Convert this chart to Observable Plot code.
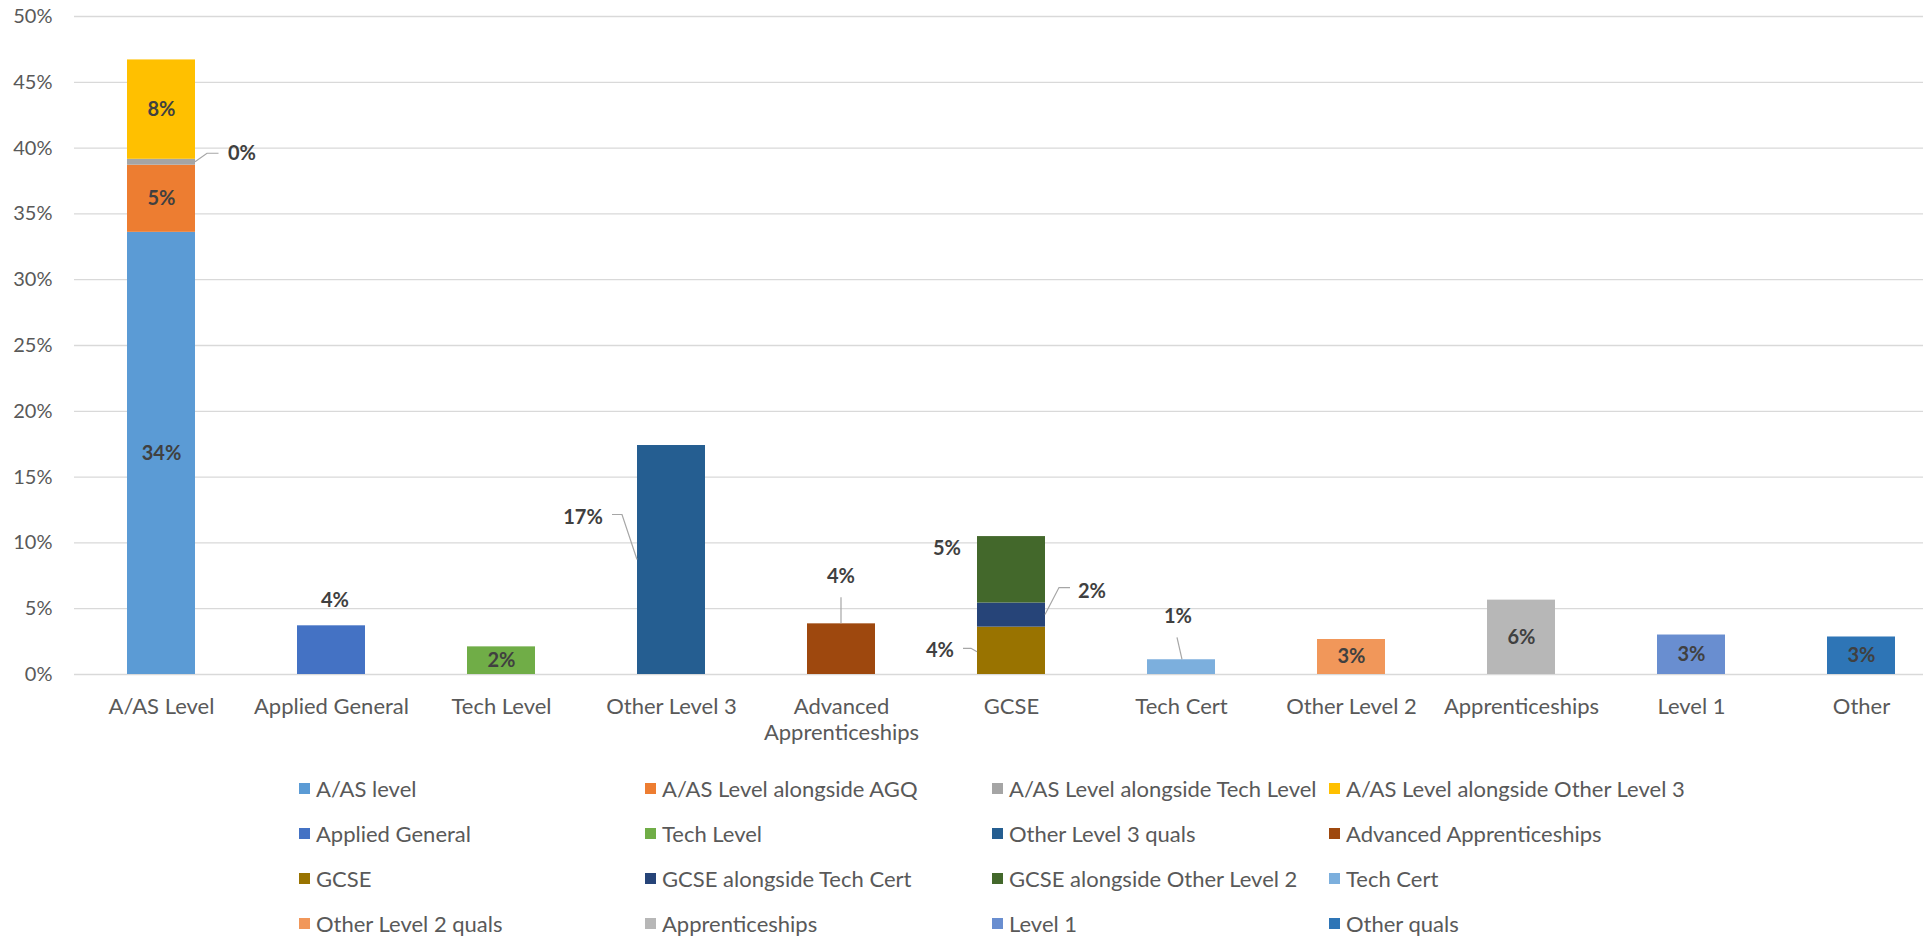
<!DOCTYPE html>
<html><head><meta charset="utf-8">
<script src="https://cdn.jsdelivr.net/npm/d3@7"></script>
<script src="https://cdn.jsdelivr.net/npm/@observablehq/plot@0.6"></script>
<style>
html,body{margin:0;padding:0;background:#fff;overflow:hidden;}
#chart svg{display:block}
.legend{display:grid;grid-template-columns:346px 347px 337px 346px;grid-auto-rows:45px;margin-left:299px;margin-top:16px;font-family:Lato,sans-serif;font-size:22px;color:#595959;}
.item{display:flex;align-items:center;white-space:nowrap}
.sw{width:11px;height:11px;margin-right:6px;flex:none}
</style></head><body>
<div id="chart"></div>
<div class="legend" id="legend"></div>
<script>
const categories = ["A/AS Level","Applied General","Tech Level","Other Level 3","Advanced Apprenticeships","GCSE","Tech Cert","Other Level 2","Apprenticeships","Level 1","Other"];
const seriesNames = ["A/AS level","A/AS Level alongside AGQ","A/AS Level alongside Tech Level","A/AS Level alongside Other Level 3","Applied General","Tech Level","Other Level 3 quals","Advanced Apprenticeships","GCSE","GCSE alongside Tech Cert","GCSE alongside Other Level 2","Tech Cert","Other Level 2 quals","Apprenticeships","Level 1","Other quals"];
const seriesCategory = ["A/AS Level","A/AS Level","A/AS Level","A/AS Level","Applied General","Tech Level","Other Level 3","Advanced Apprenticeships","GCSE","GCSE","GCSE","Tech Cert","Other Level 2","Apprenticeships","Level 1","Other"];
const seriesValues = [33.6,5.1,0.45,7.55,3.7,2.1,17.4,3.85,3.6,1.83,5.05,1.12,2.66,5.65,3.0,2.85];
const seriesColors = ["#5B9BD5","#ED7D31","#A5A5A5","#FFC000","#4472C4","#70AD47","#255E91","#9E480E","#997300","#264478","#43682B","#7CAFDD","#F1975A","#B7B7B7","#698ED0","#2E75B6"];
const yTicks = [0,5,10,15,20,25,30,35,40,45,50];

// stacked extents per series (bottom-up in input order)
const cum = {};
const data = seriesNames.map((s,i)=>{
  const c = seriesCategory[i];
  const y0 = cum[c] || 0, y1 = y0 + seriesValues[i];
  cum[c] = y1;
  return {series:s, category:c, value:seriesValues[i], y0, y1, mid:(y0+y1)/2, label: Math.round(seriesValues[i]) + "%"};
});

const special = {
  "A/AS Level alongside Tech Level": g => ({lx:g.right+47, ly:g.mid-8.5, pts:[[g.right,g.mid],[g.right+12,g.mid-8.5],[g.right+23.5,g.mid-8.5]]}),
  "Applied General": g => ({lx:g.cx+4, ly:g.top-25}),
  "Other Level 3 quals": g => ({lx:g.left-54, ly:g.mid-42.5, pts:[[g.left,g.mid],[g.left-15,g.mid-45],[g.left-25,g.mid-45]]}),
  "Advanced Apprenticeships": g => ({lx:g.cx, ly:g.top-47, pts:[[g.cx,g.top],[g.cx,g.top-26]]}),
  "GCSE": g => ({lx:g.left-37, ly:g.mid, pts:[[g.left,g.mid+1.5],[g.left-6,g.mid-2],[g.left-14,g.mid-2]]}),
  "GCSE alongside Tech Cert": g => ({lx:g.right+47, ly:g.mid-24, pts:[[g.right,g.mid],[g.right+14,g.mid-27],[g.right+25,g.mid-27]]}),
  "GCSE alongside Other Level 2": g => ({lx:g.left-30, ly:g.mid-21}),
  "Tech Cert": g => ({lx:g.cx-3, ly:g.top-43, pts:[[g.cx+1,g.top],[g.cx-4,g.top-22]]})
};

const centerLabels = data.filter(d => !special[d.series]);

const chart = Plot.plot({
  width: 1923, height: 750,
  marginLeft: 74, marginRight: 0, marginTop: 16, marginBottom: 76,
  style: {fontFamily: "Lato, sans-serif", fontSize: "19px", color: "#595959", background: "white"},
  x: {domain: categories, range: [74, 1947], paddingInner: 0.6, paddingOuter: 0.3},
  y: {domain: [0, 50]},
  color: {domain: seriesNames, range: seriesColors},
  marks: [
    Plot.gridY(yTicks, {stroke: "#d9d9d9", strokeOpacity: 1, strokeWidth: 1.3}),
    Plot.axisY({ticks: yTicks, tickSize: 0, tickPadding: 22, tickFormat: d => d + "%", label: null, fontSize: 20}),
    Plot.axisX({tickSize: 0, tickPadding: 21, label: null, fontSize: 22, lineHeight: 1.18,
      tickFormat: d => d === "Advanced Apprenticeships" ? "Advanced\nApprenticeships" : d}),
    Plot.barY(data, {x: "category", y: "value", fill: "series", order: null}),
    Plot.text(centerLabels, {x: "category", y: "mid", text: "label", fill: "#404040", fontWeight: "bold", fontSize: 20})
  ]
});
document.getElementById("chart").appendChild(chart);

// leader-line labels positioned from the plot's own scales
const xs = chart.scale("x"), ys = chart.scale("y");
const bw = xs.bandwidth;
const svg = d3.select(chart);
const g = svg.append("g");
data.filter(d => special[d.series]).forEach(d => {
  const left = xs.apply(d.category);
  const geom = {left, right: left + bw, cx: left + bw/2, top: ys.apply(d.y1), mid: ys.apply(d.mid)};
  const s = special[d.series](geom);
  if (s.pts) {
    g.append("polyline").attr("points", s.pts.map(p => p.join(",")).join(" "))
      .attr("fill", "none").attr("stroke", "#a6a6a6").attr("stroke-width", 1.2);
  }
  g.append("text").attr("x", s.lx).attr("y", s.ly).attr("dy", "0.35em")
    .attr("text-anchor", "middle").attr("fill", "#404040")
    .attr("font-weight", "bold").attr("font-size", 20).attr("font-family", "Lato, sans-serif")
    .text(d.label);
});

// legend
const legend = document.getElementById("legend");
seriesNames.forEach((s, i) => {
  const it = document.createElement("div"); it.className = "item";
  const sw = document.createElement("span"); sw.className = "sw"; sw.style.background = seriesColors[i];
  const t = document.createElement("span"); t.textContent = s;
  it.appendChild(sw); it.appendChild(t); legend.appendChild(it);
});
</script>
</body></html>
